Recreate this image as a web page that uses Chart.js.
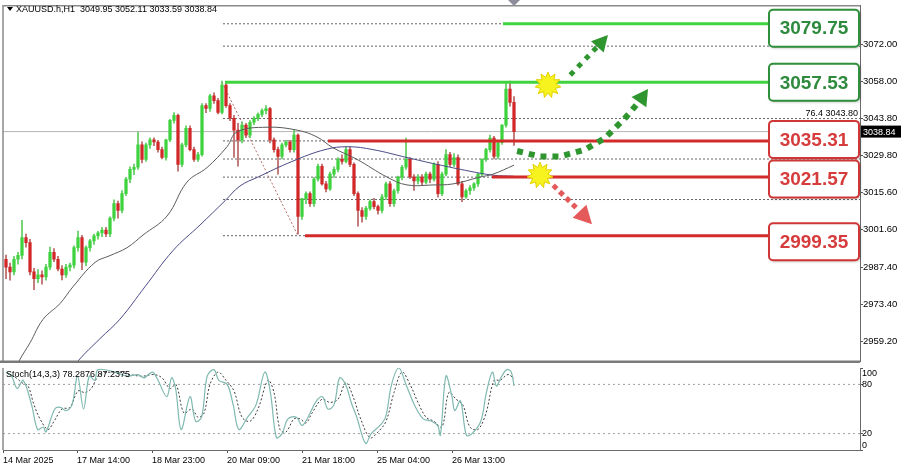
<!DOCTYPE html>
<html>
<head>
<meta charset="utf-8">
<script src="https://cdn.jsdelivr.net/npm/chart.js@4.4.1/dist/chart.umd.min.js"></script>
<style>
html, body { margin: 0; padding: 0; background: #fff; }
#wrap { position: relative; width: 902px; height: 468px; overflow: hidden; }
#top { position: absolute; left: 0; top: 0; width: 902px; height: 367px; }
#bottom { position: absolute; left: 0; top: 367px; width: 902px; height: 101px; }
</style>
</head>
<body>
<div id="wrap">
  <div id="top"><canvas id="main"></canvas></div>
  <div id="bottom"><canvas id="stoch"></canvas></div>
</div>
<script>
// Chart data (H1 candles, one entry per bar)
const symbolTitle = 'XAUUSD.h,H1  3049.95 3052.11 3033.59 3038.84';
const opens = [
  2990.4, 2987.4, 2985.6, 2990.4, 2991.9, 2998.6, 2996.7, 2985.6, 2983.0, 2984.5,
  2983.7, 2987.4, 2993.0, 2990.4, 2986.7, 2984.5, 2987.4, 2988.2, 2994.8, 2998.6,
  2989.3, 2994.8, 2997.4, 2999.3, 3000.4, 3001.5, 3000.0, 3006.0, 3011.5, 3008.9,
  3015.3, 3020.8, 3024.5, 3025.3, 3033.8, 3028.3, 3033.8, 3035.7, 3034.9, 3032.0,
  3029.0, 3035.7, 3043.1, 3045.0, 3026.4, 3033.8, 3040.1, 3032.0, 3028.3, 3030.1,
  3048.7, 3047.6, 3052.4, 3050.6, 3046.1, 3056.5, 3048.7, 3043.9, 3039.4, 3035.7,
  3041.3, 3037.5, 3042.4, 3043.9, 3045.4, 3046.8, 3047.6, 3035.7, 3032.0, 3029.4,
  3033.8, 3034.9, 3032.0, 3037.5, 3006.7, 3013.4, 3015.3, 3011.5, 3020.8, 3025.7,
  3019.0, 3017.1, 3022.7, 3024.5, 3028.3, 3027.5, 3032.0, 3026.4, 3015.3, 3008.9,
  3006.7, 3009.7, 3012.3, 3010.4, 3008.9, 3014.1, 3019.0, 3011.5, 3016.4, 3021.6,
  3025.3, 3028.3, 3021.6, 3020.1, 3021.6, 3019.7, 3022.7, 3020.8, 3026.4, 3015.3,
  3022.7, 3030.1, 3026.4, 3029.0, 3019.0, 3014.1, 3016.4, 3017.5, 3019.0, 3022.7,
  3028.3, 3032.0, 3036.4, 3029.4, 3034.6, 3041.3, 3055.0, 3049.95
];
const highs = [
  2992.0, 2989.0, 2991.5, 2993.0, 3005.2, 3000.0, 2998.0, 2987.0, 2986.5, 2986.0,
  2988.5, 2995.0, 2994.5, 2991.5, 2988.0, 2988.5, 2989.0, 2995.5, 3001.1, 2999.5,
  2995.5, 2998.0, 3000.0, 3001.0, 3002.5, 3002.5, 3006.5, 3013.0, 3012.5, 3016.5,
  3021.5, 3025.5, 3026.5, 3038.7, 3035.0, 3034.5, 3036.5, 3036.5, 3035.5, 3033.0,
  3036.0, 3043.5, 3046.1, 3045.5, 3034.5, 3041.0, 3041.0, 3033.0, 3031.0, 3049.5,
  3049.5, 3053.0, 3053.5, 3051.5, 3058.0, 3057.5, 3049.5, 3045.0, 3042.0, 3042.5,
  3042.0, 3043.0, 3044.5, 3046.0, 3047.5, 3048.7, 3048.0, 3036.5, 3033.0, 3034.5,
  3035.5, 3035.5, 3039.4, 3038.0, 3013.5, 3016.0, 3016.0, 3021.5, 3026.5, 3026.5,
  3020.0, 3023.5, 3025.5, 3029.0, 3030.0, 3033.1, 3033.0, 3027.0, 3016.0, 3010.0,
  3010.5, 3013.0, 3013.5, 3011.0, 3015.0, 3019.7, 3020.0, 3017.0, 3022.0, 3026.0,
  3036.4, 3029.0, 3022.5, 3022.5, 3022.5, 3023.5, 3023.5, 3027.0, 3027.5, 3023.5,
  3032.0, 3031.0, 3030.5, 3030.0, 3020.0, 3017.0, 3018.5, 3019.5, 3023.0, 3028.5,
  3032.5, 3037.5, 3037.0, 3035.5, 3041.5, 3057.2, 3058.0, 3052.11
];
const lows = [
  2983.0, 2982.5, 2984.5, 2988.5, 2990.5, 2995.0, 2984.5, 2978.9, 2981.5, 2981.0,
  2982.5, 2986.5, 2989.5, 2986.0, 2982.6, 2983.5, 2986.0, 2987.0, 2993.5, 2986.5,
  2988.0, 2993.5, 2996.0, 2998.0, 2999.0, 2999.0, 2999.0, 3005.0, 3006.0, 3008.0,
  3014.5, 3019.5, 3022.5, 3024.5, 3027.0, 3027.5, 3032.5, 3033.5, 3031.0, 3028.5,
  3028.0, 3035.0, 3042.0, 3023.8, 3025.5, 3033.0, 3031.5, 3027.5, 3027.5, 3029.5,
  3046.0, 3046.5, 3049.5, 3045.5, 3045.5, 3048.0, 3043.0, 3029.0, 3025.7, 3034.5,
  3036.5, 3036.5, 3041.5, 3043.0, 3044.5, 3045.5, 3034.5, 3031.0, 3022.7, 3028.5,
  3033.0, 3031.0, 3031.0, 3000.0, 3005.5, 3011.5, 3010.5, 3010.5, 3020.0, 3018.5,
  3016.0, 3016.5, 3021.5, 3023.5, 3026.5, 3027.0, 3025.5, 3014.5, 3003.0, 3004.5,
  3005.5, 3009.0, 3009.5, 3007.5, 3008.0, 3013.0, 3010.5, 3010.5, 3015.5, 3020.5,
  3024.5, 3021.0, 3016.5, 3019.0, 3018.5, 3019.0, 3019.5, 3020.0, 3014.0, 3014.5,
  3022.0, 3025.5, 3025.5, 3018.5, 3012.3, 3013.5, 3015.0, 3016.5, 3018.0, 3022.0,
  3027.5, 3031.0, 3028.5, 3028.5, 3034.0, 3040.5, 3048.5, 3033.59
];
const closes = [
  2987.4, 2985.6, 2990.4, 2991.9, 2998.6, 2996.7, 2985.6, 2983.0, 2984.5, 2983.7,
  2987.4, 2993.0, 2990.4, 2986.7, 2984.5, 2987.4, 2988.2, 2994.8, 2998.6, 2989.3,
  2994.8, 2997.4, 2999.3, 3000.4, 3001.5, 3000.0, 3006.0, 3011.5, 3008.9, 3015.3,
  3020.8, 3024.5, 3025.3, 3033.8, 3028.3, 3033.8, 3035.7, 3034.9, 3032.0, 3029.0,
  3035.7, 3043.1, 3045.0, 3026.4, 3033.8, 3040.1, 3032.0, 3028.3, 3030.1, 3048.7,
  3047.6, 3052.4, 3050.6, 3046.1, 3056.5, 3048.7, 3043.9, 3039.4, 3035.7, 3041.3,
  3037.5, 3042.4, 3043.9, 3045.4, 3046.8, 3047.6, 3035.7, 3032.0, 3029.4, 3033.8,
  3034.9, 3032.0, 3037.5, 3006.7, 3013.4, 3015.3, 3011.5, 3020.8, 3025.7, 3019.0,
  3017.1, 3022.7, 3024.5, 3028.3, 3027.5, 3032.0, 3026.4, 3015.3, 3008.9, 3006.7,
  3009.7, 3012.3, 3010.4, 3008.9, 3014.1, 3019.0, 3011.5, 3016.4, 3021.6, 3025.3,
  3028.3, 3021.6, 3020.1, 3021.6, 3019.7, 3022.7, 3020.8, 3026.4, 3015.3, 3022.7,
  3030.1, 3026.4, 3029.0, 3019.0, 3014.1, 3016.4, 3017.5, 3019.0, 3022.7, 3028.3,
  3032.0, 3036.4, 3029.4, 3034.6, 3041.3, 3055.0, 3049.95, 3038.84
];

// moving averages (read at sample bars)
const ma1Idx = [1, 3.25, 6, 9.25, 13.5, 16.75, 22.25, 26, 30.25, 34.25, 40.25, 45.25, 50.25, 55.25, 57.75, 65.25, 72.75, 77.75, 81.75, 87.75, 95.25, 100.25, 106.75, 111.75, 118.5, 121.75, 127];
const ma1Val = [2944.6, 2951.8, 2958.7, 2967.6, 2973.6, 2980.0, 2989.2, 2991.8, 2994.8, 2999.6, 3006.8, 3019.7, 3025.2, 3033.1, 3038.7, 3040.5, 3039.4, 3036.8, 3032.7, 3028.3, 3021.6, 3018.6, 3018.6, 3019.0, 3021.6, 3022.7, 3026.1];
const ma2Idx = [13.5, 18, 23.5, 28.5, 34.75, 41.75, 48.5, 54.75, 58.5, 63, 71.5, 79.75, 85.5, 91.75, 100.25, 107.75, 116, 121.75, 127];
const ma2Val = [2942.8, 2951.8, 2960.3, 2967.7, 2980.0, 2993.7, 3003.4, 3012.6, 3018.2, 3021.6, 3027.5, 3032.0, 3033.1, 3032.0, 3029.0, 3026.4, 3023.8, 3022.3, 3021.9];

// stochastic (14,3,3)
const stochTitle = 'Stoch(14,3,3) 78.2876 87.2375';
const stochMainIdx = [0, 1.4, 2.8, 4.3, 6.4, 7.9, 9.3, 10, 12.2, 13.6, 15, 16.5, 17.9, 19.4, 20.8, 22.2,
  23, 27.3, 30.2, 33, 34.5, 36.6, 38, 40.2, 41.4, 42.4, 43.8, 46, 47.4, 48.9, 50.3, 52,
  53.2, 55.3, 56.8, 58.2, 60.4, 62.5, 64.7, 66.1, 67.6, 69, 70.5, 72.6, 74, 75.5, 77.6, 79.1,
  80.5, 82, 83.4, 84.9, 86.3, 87.7, 89.9, 91.3, 93.5, 94.9, 96.4, 98.2, 100, 102.1, 104.3, 106.4,
  107.9, 108.6, 110, 111.5, 112.2, 113.6, 115.1, 116.5, 118.7, 120.1, 121.6, 122.6, 123.7, 125.2, 126.3, 127];
const stochMainVal = [95, 90, 75, 85, 55, 25, 28, 22, 50, 52, 48, 55, 90, 50, 90, 85,
  98, 95, 90, 92, 88, 95, 85, 65, 88, 75, 25, 65, 35, 40, 90, 98,
  85, 80, 55, 25, 40, 55, 95, 70, 15, 20, 38, 40, 30, 40, 60, 65,
  50, 55, 88, 80, 58, 40, 8, 20, 30, 40, 80, 100, 80, 55, 38, 35,
  30, 18, 90, 65, 48, 60, 18, 20, 35, 70, 95, 78, 88, 98, 95, 78.3];
const stochSigIdx = [0.5, 2.5, 4, 5.5, 7, 8.5, 10.5, 12, 14, 16, 18, 19.8, 21.3, 23.5, 28, 31, 34, 37, 39, 41,
  42.5, 44.5, 46.5, 48, 49.5, 51, 53, 55, 57, 59, 61, 63, 65.5, 67, 68.5, 70, 72, 73.5, 75, 76.5,
  79, 81, 83, 85, 87, 88.5, 91, 93, 95, 97, 99, 101, 103, 105, 107, 109, 110.7, 112.5, 114.2, 116,
  118, 120, 122, 123.5, 125.5, 127];
const stochSigVal = [93, 88, 82, 78, 55, 38, 25, 35, 50, 52, 72, 70, 75, 92, 95, 92, 90, 92, 88, 75,
  80, 45, 50, 40, 45, 80, 95, 85, 72, 40, 35, 50, 85, 70, 25, 22, 38, 38, 33, 45,
  62, 58, 62, 82, 62, 40, 15, 22, 35, 70, 95, 80, 58, 40, 35, 28, 70, 62, 55, 28,
  25, 45, 85, 85, 92, 87.2];
const stochTicks = [0, 20, 80, 100];
const stochBands = [20, 80];

// axes
const priceTicks = [3072.00, 3058.00, 3043.80, 3029.80, 3015.60, 3001.60, 2987.40, 2973.40, 2959.20];
const timeLabels = ['14 Mar 2025', '17 Mar 14:00', '18 Mar 23:00', '20 Mar 09:00', '21 Mar 18:00', '25 Mar 04:00', '26 Mar 13:00'];
const timeTickIdx = [-0.75, 17.75, 36.5, 55.25, 74, 92.75, 111.5];
const lastPrice = 3038.84;

// levels
const resistLevels = [3079.75, 3057.53];
const resistStart = [124.25, 54.75];
const supportLevels = [3035.31, 3021.57, 2999.35];
const supportStart = [80.5, 121.5, 74.75];
const levelEnd = 190.5;
const fibLevels = [3079.75, 3071.26, 3043.80, 3035.31, 3028.44, 3021.57, 3013.07, 2999.35];
const fibStart = 54.25;
const fibTrendIdx = [54, 73];
const fibTrendVal = [3057.53, 2999.35];
const fibTagPct = '76.4';
const fibTagLevel = 3043.80;

// scenario arrows (bar index / price)
const upArrowIdx = [141.5, 148.5, 150.5];
const upArrowVal = [3061.0, 3072.1, 3075.5];
const curveArrowIdx = [128.5, 133.5, 138.5, 144.75, 149.75, 154.75, 158.5, 160.5];
const curveArrowVal = [3031.2, 3029.4, 3029.4, 3032.0, 3036.4, 3043.9, 3050.6, 3055.0];
const downArrowIdx = [137.25, 142.25, 146.5];
const downArrowVal = [3017.8, 3010.4, 3003.7];
const starIdx = [135.5, 133.5];
const starVal = [3056.5, 3022.3];

const xMin = -0.75, xMax = 213.5;
const FONT = '"Liberation Sans", Arial, sans-serif';
Chart.defaults.font.family = FONT;
Chart.defaults.font.size = 9;
Chart.defaults.color = '#000';

const bullColor = '#3fd23f', bearColor = '#d12727';
const greenLine = '#3fd43f', redLine = '#d32a2a';

const zip = (xs, ys) => xs.map((x, k) => ({ x: x, y: ys[k] }));
const flat = (v, from, to) => [{ x: from, y: v }, { x: to, y: v }];
const barIdx = opens.map((_, i) => i);

function lineSet(data, color, width, dash, order, tension) {
  return { type: 'line', data: data, borderColor: color, borderWidth: width, borderDash: dash || [],
    pointRadius: 0, tension: tension || 0, order: order, fill: false };
}

const mainSets = [
  lineSet(flat(lastPrice, xMin, xMax), '#b4b4b4', 1, [], 9),
  ...fibLevels.map(v => lineSet(flat(v, fibStart, xMax), '#666', 1, [2, 2], 8)),
  lineSet(zip(fibTrendIdx, fibTrendVal), '#b86e6e', 1, [2, 2], 7),
  {
    type: 'bar', data: barIdx.map(i => ({ x: i, y: [lows[i], highs[i]] })),
    backgroundColor: barIdx.map(i => closes[i] >= opens[i] ? '#5ccc5c' : '#b86262'),
    barThickness: 1, grouped: false, order: 6
  },
  {
    type: 'bar', data: barIdx.map(i => ({ x: i, y: [opens[i], closes[i]] })),
    backgroundColor: barIdx.map(i => closes[i] >= opens[i] ? bullColor : bearColor),
    barThickness: 2.6, minBarLength: 1, grouped: false, order: 5
  },
  lineSet(zip(ma1Idx, ma1Val), '#5c5c5c', 1, [], 4, 0.4),
  lineSet(zip(ma2Idx, ma2Val), '#4b4b86', 1, [], 4, 0.4),
  ...resistLevels.map((v, k) => lineSet(flat(v, resistStart[k], levelEnd), greenLine, 3, [], 1)),
  ...supportLevels.map((v, k) => lineSet(flat(v, supportStart[k], levelEnd), redLine, 3, [], 1))
];

function px(chart, idx, val) {
  return { x: chart.scales.x.getPixelForValue(idx), y: chart.scales.y.getPixelForValue(val) };
}

function dottedArrow(ctx, pts, color, step, size, headLen, headWid) {
  const segs = [];
  let total = 0;
  for (let k = 1; k < pts.length; k++) {
    const d = Math.hypot(pts[k].x - pts[k - 1].x, pts[k].y - pts[k - 1].y);
    segs.push(d); total += d;
  }
  ctx.fillStyle = color;
  for (let s = 0; s <= total - headLen - 2; s += step) {
    let rem = s, k = 0;
    while (k < segs.length - 1 && rem > segs[k]) { rem -= segs[k]; k++; }
    const t = segs[k] ? rem / segs[k] : 0;
    const x = pts[k].x + (pts[k + 1].x - pts[k].x) * t;
    const y = pts[k].y + (pts[k + 1].y - pts[k].y) * t;
    const ang = Math.atan2(pts[k + 1].y - pts[k].y, pts[k + 1].x - pts[k].x);
    ctx.save();
    ctx.translate(x, y); ctx.rotate(ang);
    ctx.fillRect(-size / 2, -size / 2, size, size);
    ctx.restore();
  }
  const a = pts[pts.length - 2], b = pts[pts.length - 1];
  const ang = Math.atan2(b.y - a.y, b.x - a.x);
  ctx.save();
  ctx.translate(b.x, b.y); ctx.rotate(ang);
  ctx.beginPath();
  ctx.moveTo(0, 0); ctx.lineTo(-headLen, -headWid / 2); ctx.lineTo(-headLen, headWid / 2);
  ctx.closePath(); ctx.fill();
  ctx.restore();
}

function starburst(ctx, cx, cy) {
  const n = 11, rOut = 13, rIn = 8;
  ctx.beginPath();
  for (let k = 0; k < n * 2; k++) {
    const r = k % 2 ? rIn : rOut;
    const a = -Math.PI / 2 + k * Math.PI / n;
    const x = cx + Math.cos(a) * r, y = cy + Math.sin(a) * r;
    k ? ctx.lineTo(x, y) : ctx.moveTo(x, y);
  }
  ctx.closePath();
  ctx.fillStyle = '#f6f31e';
  ctx.fill();
  ctx.strokeStyle = '#e3d000';
  ctx.lineWidth = 1;
  ctx.stroke();
}

function levelBox(ctx, left, cy, text, stroke, textColor) {
  const w = 90, h = 37, top = Math.max(7, cy - h / 2);
  ctx.save();
  ctx.shadowColor = 'rgba(0,0,0,0.35)';
  ctx.shadowBlur = 3; ctx.shadowOffsetX = 1; ctx.shadowOffsetY = 1;
  ctx.beginPath();
  ctx.roundRect(left, top, w, h, 4);
  ctx.fillStyle = '#fff';
  ctx.fill();
  ctx.shadowColor = 'transparent';
  ctx.lineWidth = 2;
  ctx.strokeStyle = stroke;
  ctx.stroke();
  ctx.fillStyle = textColor;
  ctx.font = 'bold 19px ' + FONT;
  ctx.textAlign = 'center';
  ctx.textBaseline = 'middle';
  ctx.fillText(text, left + w / 2, top + h / 2 + 1);
  ctx.restore();
}

const mainOverlay = {
  id: 'mainOverlay',
  afterDatasetsDraw(chart) {
    const { ctx, chartArea: a, scales: { y } } = chart;
    ctx.save();
    // fib tag
    ctx.font = '9px ' + FONT;
    ctx.fillStyle = '#000';
    ctx.textAlign = 'right';
    ctx.textBaseline = 'bottom';
    ctx.fillText(fibTagPct + ' ' + fibTagLevel.toFixed(2), a.right - 2, y.getPixelForValue(fibTagLevel) - 1);

    // scenario arrows
    dottedArrow(ctx, upArrowIdx.map((v, k) => px(chart, v, upArrowVal[k])), '#2f962f', 11, 5, 16, 17);
    dottedArrow(ctx, curveArrowIdx.map((v, k) => px(chart, v, curveArrowVal[k])), '#2f962f', 12, 6, 16, 18);
    dottedArrow(ctx, downArrowIdx.map((v, k) => px(chart, v, downArrowVal[k])), '#e45a5a', 9, 5, 18, 19);
    starIdx.forEach((v, k) => { const p = px(chart, v, starVal[k]); starburst(ctx, p.x, p.y); });

    // level boxes
    const boxLeft = a.right - 91;
    const rShift = [4.5, 0], sShift = [-1.5, 2, 6];
    resistLevels.forEach((v, k) => levelBox(ctx, boxLeft, y.getPixelForValue(v) + rShift[k], v.toFixed(2), '#2f8f3a', '#2e8b3e'));
    supportLevels.forEach((v, k) => levelBox(ctx, boxLeft, y.getPixelForValue(v) + sShift[k], v.toFixed(2), '#cf3636', '#d63c3c'));
    ctx.restore();
  },
  afterDraw(chart) {
    const { ctx, chartArea: a, scales: { x, y } } = chart;
    ctx.save();
    // frame
    ctx.strokeStyle = '#8a8a8a';
    ctx.lineWidth = 1.5;
    ctx.beginPath();
    ctx.moveTo(a.left, a.bottom); ctx.lineTo(a.left, a.top); ctx.lineTo(a.right, a.top);
    ctx.stroke();
    ctx.strokeStyle = '#7a7a7a';
    ctx.lineWidth = 2.5;
    ctx.beginPath();
    ctx.moveTo(0, a.bottom + 0.5); ctx.lineTo(a.right, a.bottom + 0.5);
    ctx.stroke();

    // title
    ctx.fillStyle = '#000';
    ctx.beginPath();
    ctx.moveTo(7, 7); ctx.lineTo(13, 7); ctx.lineTo(10, 11); ctx.closePath(); ctx.fill();
    ctx.font = '9px ' + FONT;
    ctx.textAlign = 'left';
    ctx.textBaseline = 'middle';
    ctx.fillText(symbolTitle, 16, 9.5);

    // shift marker above last bar
    const sx = x.getPixelForValue(opens.length - 1);
    ctx.fillStyle = '#8d8d9c';
    ctx.beginPath();
    ctx.moveTo(sx - 6, 0); ctx.lineTo(sx + 6, 0); ctx.lineTo(sx, 6); ctx.closePath(); ctx.fill();

    // last price tag
    const py = y.getPixelForValue(lastPrice);
    ctx.fillStyle = '#000';
    ctx.fillRect(a.right + 1, py - 6, 40, 12);
    ctx.fillStyle = '#fff';
    ctx.fillText(lastPrice.toFixed(2), a.right + 3, py + 0.5);
    ctx.restore();
  }
};

new Chart(document.getElementById('main'), {
  type: 'bar',
  data: { datasets: mainSets },
  options: {
    responsive: true,
    maintainAspectRatio: false,
    animation: false,
    layout: { padding: { left: 3, top: 3, right: 0, bottom: 1 } },
    plugins: { legend: { display: false }, tooltip: { enabled: false } },
    scales: {
      x: { type: 'linear', min: xMin, max: xMax, offset: false, display: false },
      y: {
        position: 'right', min: 2951.7, max: 3086.6,
        afterBuildTicks: s => { s.ticks = priceTicks.map(v => ({ value: v })); },
        afterFit: s => { s.width = 42; },
        ticks: { callback: v => Number(v).toFixed(2), padding: 0, color: '#000', font: { size: 9.5 } },
        grid: { drawOnChartArea: false, tickLength: 3, color: '#555' },
        border: { color: '#6a6a6a', width: 1 }
      }
    }
  },
  plugins: [mainOverlay]
});

const stochOverlay = {
  id: 'stochOverlay',
  afterDraw(chart) {
    const { ctx, chartArea: a, scales: { y } } = chart;
    ctx.save();
    ctx.strokeStyle = '#8a8a8a';
    ctx.lineWidth = 1.5;
    ctx.beginPath();
    ctx.moveTo(a.left, a.top); ctx.lineTo(a.left, a.bottom);
    ctx.stroke();
    ctx.font = '9px ' + FONT;
    ctx.fillStyle = '#000';
    ctx.textBaseline = 'middle';
    ctx.textAlign = 'left';
    ctx.fillText(stochTitle, a.left + 3, a.top + 7);
    stochTicks.forEach(v => {
      const ty = Math.min(a.bottom - 4, Math.max(a.top + 6, y.getPixelForValue(v)));
      ctx.fillText(String(v), a.right + 2, ty);
    });
    ctx.restore();
  }
};

new Chart(document.getElementById('stoch'), {
  type: 'line',
  data: {
    datasets: [
      ...stochBands.map(v => lineSet(flat(v, xMin, xMax), '#a0a0a0', 1, [2, 3], 3)),
      lineSet(zip(stochSigIdx, stochSigVal), '#3c3c3c', 1, [2, 2], 2, 0.35),
      lineSet(zip(stochMainIdx, stochMainVal), '#7fb9b0', 1.2, [], 1, 0.35)
    ]
  },
  options: {
    responsive: true,
    maintainAspectRatio: false,
    animation: false,
    layout: { padding: { left: 3, top: 1, right: 0, bottom: 0 } },
    plugins: { legend: { display: false }, tooltip: { enabled: false } },
    scales: {
      x: {
        type: 'linear', min: xMin, max: xMax, offset: false,
        afterBuildTicks: s => { s.ticks = timeTickIdx.map(v => ({ value: v })); },
        afterFit: s => { s.height = 18; },
        ticks: { align: 'start', autoSkip: false, maxRotation: 0, padding: 2, color: '#000',
          callback: (v, i) => timeLabels[i] },
        grid: { drawOnChartArea: false, tickLength: 3, color: '#555' },
        border: { color: '#6a6a6a', width: 1 }
      },
      y: {
        position: 'right', min: 0, max: 100,
        afterBuildTicks: s => { s.ticks = stochTicks.map(v => ({ value: v })); },
        afterFit: s => { s.width = 42; },
        ticks: { display: false },
        grid: { drawOnChartArea: false, tickLength: 3, color: '#555' },
        border: { color: '#6a6a6a', width: 1 }
      }
    }
  },
  plugins: [stochOverlay]
});
</script>
</body>
</html>
